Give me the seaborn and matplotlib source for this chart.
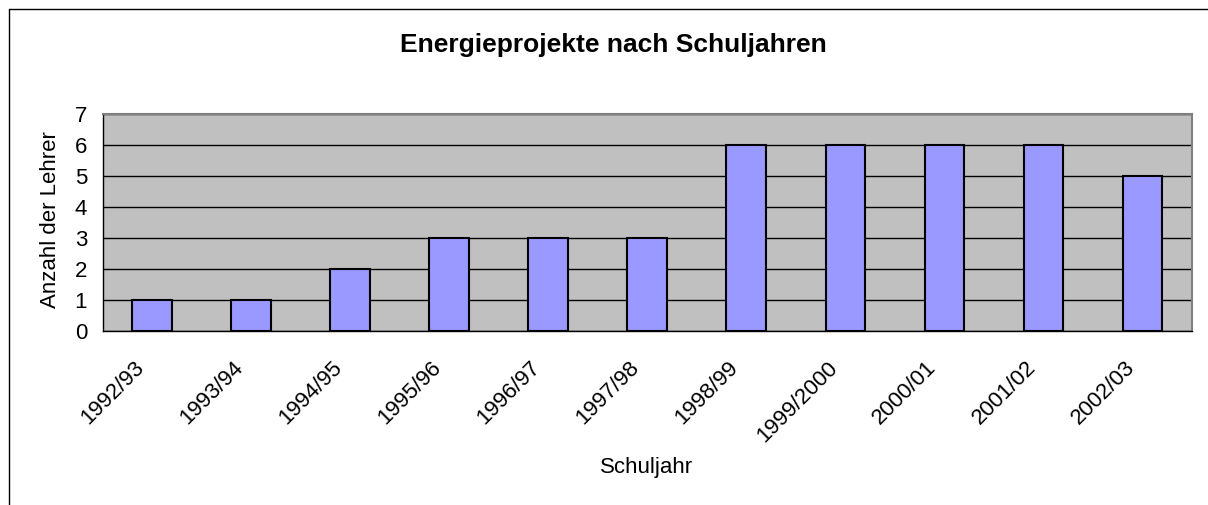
import matplotlib
matplotlib.use("Agg")
import matplotlib.pyplot as plt
import matplotlib.transforms as mtransforms
import seaborn as sns
import pandas as pd
from matplotlib.lines import Line2D

schuljahre = ["1992/93", "1993/94", "1994/95", "1995/96", "1996/97", "1997/98",
              "1998/99", "1999/2000", "2000/01", "2001/02", "2002/03"]
anzahl_lehrer = [1, 1, 2, 3, 3, 3, 6, 6, 6, 6, 5]
y_ticks = [0, 1, 2, 3, 4, 5, 6, 7]

df = pd.DataFrame({"Schuljahr": schuljahre, "Anzahl": anzahl_lehrer})

sns.set_theme(style="white")
plt.rcParams['font.family'] = ['Liberation Sans', 'DejaVu Sans']

W, H = 1208, 505
fig = plt.figure(figsize=(W / 100, H / 100), dpi=100)
left, right, top, bottom = 102.5, 1192, 114, 331
ax = fig.add_axes([left / W, 1 - bottom / H, (right - left) / W, (bottom - top) / H])
ax.set_facecolor("#C0C0C0")

sns.barplot(data=df, x="Schuljahr", y="Anzahl", ax=ax, color="#9999FF",
            saturation=1, width=0.4, edgecolor="black", linewidth=1.5, zorder=3)

ax.set_ylim(0, 7)
ax.set_xlim(-0.5, len(schuljahre) - 0.5)
ax.set_yticks(y_ticks)
ax.set_yticklabels([str(v) for v in y_ticks], fontsize=16)
ax.yaxis.grid(True, color="black", linewidth=1.0, zorder=1)
ax.set_axisbelow(True)

# x ticks at category boundaries, labels at centers
ax.set_xticks(range(len(schuljahre)))
ax.set_xticklabels(schuljahre, rotation=45, ha="right", va="center",
                   rotation_mode="anchor", fontsize=16)
ax.tick_params(axis="x", which="major", length=0, pad=22)
shift = mtransforms.ScaledTranslation(-0.11, -0.03, fig.dpi_scale_trans)
for lab in ax.get_xticklabels():
    lab.set_transform(lab.get_transform() + shift)
ax.set_xticks([i - 0.5 for i in range(len(schuljahre) + 1)], minor=True)
ax.tick_params(axis="x", which="minor", length=5, width=1, color="black", direction="out")
ax.tick_params(axis="y", length=5, width=1, color="black", direction="out", pad=6)
ax.tick_params(axis="both", labelcolor="black")

for s in ["left", "bottom"]:
    ax.spines[s].set_color("black")
    ax.spines[s].set_linewidth(1.0)
for s in ["top", "right"]:
    ax.spines[s].set_color("#808080")
    ax.spines[s].set_linewidth(1.5)

ax.set_xlabel("")
ax.set_ylabel("")
fig.text(647 / W, 1 - 467 / H, "Schuljahr", ha="center", va="center", fontsize=16,
         color="black")
fig.text(50 / W, 1 - 220 / H, "Anzahl der Lehrer", ha="center", va="center",
         rotation=90, fontsize=16, color="black")
fig.text(613 / W, 1 - 45 / H, "Energieprojekte nach Schuljahren", ha="center",
         va="center", fontsize=19, fontweight="bold", color="black")

# outer chart frame (top and left visible)
fig.add_artist(Line2D([8.5 / W, 1.0], [1 - 9 / H, 1 - 9 / H], color="black", linewidth=1.0,
                      transform=fig.transFigure))
fig.add_artist(Line2D([8.5 / W, 8.5 / W], [0, 1 - 9 / H], color="black", linewidth=1.0,
                      transform=fig.transFigure))

fig.savefig("out.png", dpi=100)
